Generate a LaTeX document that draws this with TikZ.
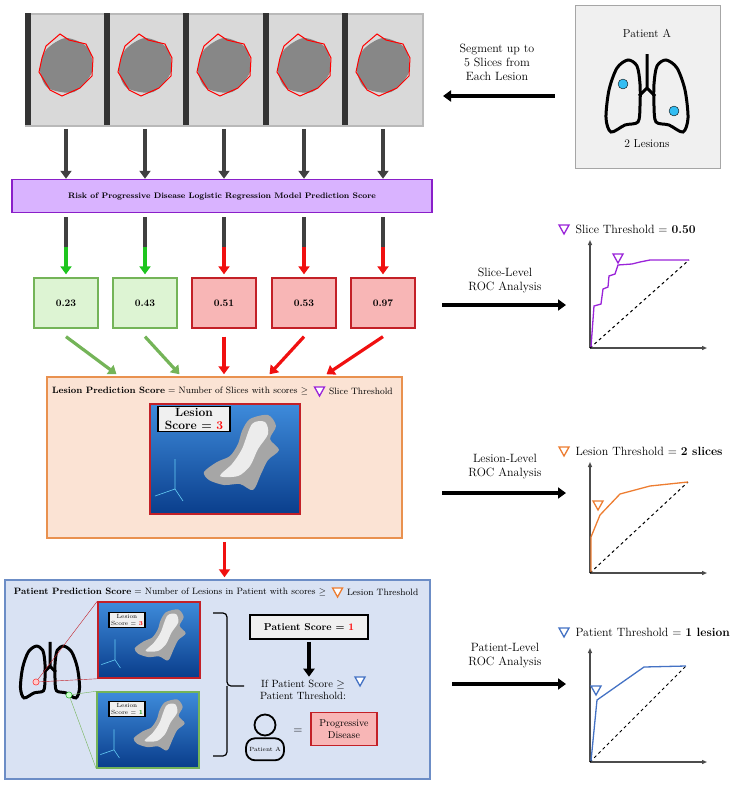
\documentclass[tikz,border=0pt]{standalone}
\usetikzlibrary{arrows.meta,positioning,shapes.geometric}
\definecolor{riskfill}{HTML}{D9B3FF}
\definecolor{riskdraw}{HTML}{8A1FC9}
\definecolor{goodfill}{HTML}{DDF4D3}
\definecolor{gooddraw}{HTML}{74B458}
\definecolor{badfill}{HTML}{F8B6B6}
\definecolor{baddraw}{HTML}{C32027}
\definecolor{lesfill}{HTML}{FBE3D4}
\definecolor{lesdraw}{HTML}{E9914F}
\definecolor{patfill}{HTML}{D9E2F3}
\definecolor{patdraw}{HTML}{6C8DC6}
\definecolor{rocblue}{HTML}{4472C4}
\definecolor{rocorange}{HTML}{ED7D31}
\definecolor{rocpurple}{HTML}{9A24D9}
\definecolor{renderlight}{HTML}{3E8BDB}
\definecolor{renderdark}{HTML}{0A3E8C}
\definecolor{arrowred}{HTML}{F01010}
\definecolor{arrowgreen}{HTML}{1EC51E}

\tikzset{
  fatarrow/.style={line width=3.2pt, -{Triangle[length=8pt,width=11pt]}},
  score/.style={draw, line width=1.3pt, minimum width=64pt, minimum height=50pt, font=\bfseries\fontsize{10}{12}\selectfont},
  rocaxis/.style={line width=1.2pt, black!70, -{Triangle[length=5pt,width=4pt]}},
  roctext/.style={align=center, font=\fontsize{12}{14}\selectfont},
  thr/.pic={\draw[line width=1.3pt, fill=white] (-5,-4) -- (5,-4) -- (0,5) -- cycle;},
  lungs/.pic={
    \draw[line width=3pt, line join=round] (0,-42) -- (0,-8) -- (-8,0) (0,-8) -- (8,0);
    \draw[line width=3pt] plot[smooth cycle] coordinates {(-10,-30) (-7,-12) (-7,10) (-9,26) (-22,29) (-36,36) (-41,22) (-38,-6) (-30,-28) (-19,-36)};
    \draw[line width=3pt] plot[smooth cycle] coordinates {(10,-30) (7,-12) (7,10) (9,26) (22,29) (36,36) (41,22) (38,-6) (30,-28) (19,-36)};
  },
  render/.pic={
    \shade[top color=renderlight, bottom color=renderdark] (0,0) rectangle (150,110);
    \fill[gray!70] plot[smooth cycle] coordinates {(100,15) (118,11) (126,22) (120,35) (129,46) (118,56) (111,70) (103,86) (90,80) (74,81) (59,76) (54,68) (67,58) (80,52) (88,40) (92,27)};
    \fill[white!85!gray] plot[smooth cycle] coordinates {(102,20) (115,18) (118,30) (108,45) (100,62) (88,72) (70,72) (82,60) (92,45)};
    \draw[cyan!60, line width=0.6pt] (25,85) -- (25,55) (25,85) -- (5,92) (25,85) -- (33,97);
  }
}

\begin{document}
\begin{tikzpicture}[x=1pt, y=-1pt, font=\fontsize{10}{12}\selectfont]
  \useasboundingbox (0,0) rectangle (745,788);

  % CT slices
  \foreach \i/\x in {1/66, 2/145, 3/224, 4/304, 5/383} {
    \node[minimum width=80pt, minimum height=112pt, fill=gray!30, draw=gray!55, line width=1.5pt] (sl\i) at (\x,70) {};
    \fill[black!80] (sl\i.north west) rectangle ++(6,112);
    \fill[black!55, opacity=0.8] plot[smooth cycle] coordinates {(\x-20,50) (\x,38) (\x+22,48) (\x+26,72) (\x+8,92) (\x-18,88) (\x-26,70)};
    \draw[red, line width=1pt] plot[sharp cycle] coordinates {(\x-20,46) (\x-6,34) (\x+3,40) (\x+20,44) (\x+27,58) (\x+26,76) (\x+14,88) (\x-4,96) (\x-16,90) (\x-27,72) (\x-24,58)};
  }

  \node[draw=riskdraw, fill=riskfill, line width=1.5pt, minimum width=420pt, minimum height=33pt, font=\bfseries\fontsize{8}{10}\selectfont] (risk) at (222,196) {Risk of Progressive Disease Logistic Regression Model Prediction Score};

  % slice scores
  \node[score, draw=gooddraw, fill=goodfill] (sc1) at (66,303) {0.23};
  \node[score, draw=gooddraw, fill=goodfill] (sc2) at (145,303) {0.43};
  \node[score, draw=baddraw, fill=badfill] (sc3) at (224,303) {0.51};
  \node[score, draw=baddraw, fill=badfill] (sc4) at (304,303) {0.53};
  \node[score, draw=baddraw, fill=badfill] (sc5) at (383,303) {0.97};

  \foreach \i in {1,...,5} {
    \draw[fatarrow, black!75] ([yshift=-2pt]sl\i.south) -- (sl\i |- risk.north);
    \coordinate (m\i) at ([yshift=30pt]sc\i.north);
  }
  \foreach \i in {1,2} {
    \draw[line width=3.2pt, black!75] ([yshift=-4pt]risk.south -| sc\i) -- (m\i);
    \draw[fatarrow, arrowgreen] (m\i) -- ([yshift=3pt]sc\i.north);
  }
  \foreach \i in {3,4,5} {
    \draw[line width=3.2pt, black!75] ([yshift=-4pt]risk.south -| sc\i) -- (m\i);
    \draw[fatarrow, arrowred] (m\i) -- ([yshift=3pt]sc\i.north);
  }

  % lesion box
  \node[draw=lesdraw, fill=lesfill, line width=1.5pt, minimum width=355pt, minimum height=161pt] (les) at (224.5,457.5) {};
  \draw[fatarrow, gooddraw] ([yshift=-8pt]sc1.south) -- ([xshift=-108pt,yshift=2pt]les.north);
  \draw[fatarrow, gooddraw] ([yshift=-8pt]sc2.south) -- ([xshift=-45pt,yshift=2pt]les.north);
  \draw[fatarrow, arrowred] ([yshift=-8pt]sc3.south) -- ([yshift=2pt]sc3.south |- les.north);
  \draw[fatarrow, arrowred] ([yshift=-8pt]sc4.south) -- ([xshift=45pt,yshift=2pt]les.north);
  \draw[fatarrow, arrowred] ([yshift=-8pt]sc5.south) -- ([xshift=102pt,yshift=2pt]les.north);

  \node[font=\fontsize{9.2}{11}\selectfont] (lt1) at (180,391) {\textbf{Lesion Prediction Score} = Number of Slices with scores $\geq$};
  \pic[rocpurple] at ([xshift=8pt]lt1.east) {thr};
  \node[font=\fontsize{9.2}{11}\selectfont, right=14pt of lt1] (lt2) {Slice Threshold};

  \pic at (150,404) {render};
  \node[draw=baddraw, line width=1.5pt, minimum width=150pt, minimum height=110pt] (rbig) at (225,459) {};
  \node[draw, line width=1.5pt, fill=gray!12, align=center, font=\bfseries\fontsize{12}{13}\selectfont, inner sep=2pt, minimum width=72pt] (lscore) at (194,419) {Lesion\\Score = \textcolor{red}{3}};

  % patient box
  \node[draw=patdraw, fill=patfill, line width=1.5pt, minimum width=425pt, minimum height=199pt] (pat) at (217.5,679.5) {};
  \draw[fatarrow, arrowred] ([yshift=-3pt]les.south) -- ([yshift=2pt]les.south |- pat.north);
  \node[font=\fontsize{9.2}{11}\selectfont] (pt1) at (170,592) {\textbf{Patient Prediction Score} = Number of Lesions in Patient with scores $\geq$};
  \pic[rocorange] at ([xshift=8pt]pt1.east) {thr};
  \node[font=\fontsize{9.2}{11}\selectfont, right=14pt of pt1] (pt2) {Lesion Threshold};

  \pic[scale=0.72] at (50,672) {lungs};
  \node[draw=red, circle, inner sep=2.2pt, fill=red!20] (lred) at (36,682) {};
  \node[draw=green!60!black, circle, inner sep=2.2pt, fill=green!20] (lgreen) at (69,695) {};

  \pic[scale=0.68] at (98,602) {render};
  \node[draw=baddraw, line width=1.5pt, minimum width=102pt, minimum height=76pt] (rred) at (149,640) {};
  \pic[scale=0.68] at (97,692) {render};
  \node[draw=gooddraw, line width=1.5pt, minimum width=102pt, minimum height=76pt] (rgreen) at (148,730) {};
  \draw[baddraw] (lred) -- (rred.north west) (lred) -- (rred.south west);
  \draw[gooddraw] (lgreen) -- (rgreen.north west) (lgreen) -- (rgreen.south west);
  \node[draw, line width=1.2pt, fill=gray!12, align=center, font=\fontsize{6}{7}\selectfont, inner sep=2pt] (ls1) at (127,620) {Lesion\\Score = \textcolor{red}{\textbf{3}}};
  \node[draw, line width=1.2pt, fill=gray!12, align=center, font=\fontsize{6}{7}\selectfont, inner sep=2pt] (ls2) at (127,709) {Lesion\\Score = \textcolor{green!60!black}{\textbf{1}}};

  \coordinate (br) at (244,686);
  \draw[line width=1.2pt, rounded corners=4pt] (213,613) -- (227,613) -- (227,686) -- (br) (227,686) -- (227,756) -- (213,756);

  \node[draw, line width=1.5pt, fill=gray!12, minimum width=118pt, minimum height=24pt, font=\bfseries\fontsize{10}{12}\selectfont] (psc) at (309,627) {Patient Score = \textcolor{red}{1}};
  \node[align=center, font=\fontsize{10.5}{12}\selectfont] (cond) at (303,690) {If Patient Score $\geq$\hspace{12pt}\\Patient Threshold:};
  \draw[fatarrow, black] ([yshift=-2pt]psc.south) -- (psc.south |- cond.north);
  \pic[rocblue] at (360,681) {thr};
  \node[draw, circle, line width=1.8pt, minimum size=21pt] (head) at (265,725) {};
  \node[draw, line width=1.8pt, rounded corners=9pt, minimum width=36pt, minimum height=22pt, font=\fontsize{6}{7}\selectfont, below=1pt of head] (body) {Patient A};
  \node[font=\fontsize{12}{12}\selectfont] (eq) at (298,731) {=};
  \node[draw=baddraw, fill=badfill, line width=1.5pt, align=center, minimum width=66pt, minimum height=33pt, font=\fontsize{10}{12}\selectfont] (pd) at (344,729) {Progressive\\Disease};

  % patient A
  \node[draw=gray!70, fill=gray!12, line width=1pt, minimum width=145pt, minimum height=163pt] (pa) at (647.5,86.5) {};
  \node[font=\fontsize{11.5}{13}\selectfont] (pan) at (647,33) {Patient A};
  \pic at (647,96) {lungs};
  \node[draw, circle, fill=cyan!80, inner sep=3.5pt] (d1) at (623,84) {};
  \node[draw, circle, fill=cyan!80, inner sep=3.5pt] (d2) at (674,111) {};
  \node[font=\fontsize{11.5}{13}\selectfont] (pal) at (647,144) {2 Lesions};
  \node[roctext] (seg) at (497,62) {Segment up to\\5 Slices from\\Each Lesion};
  \coordinate (segend) at (443,96);
  \draw[fatarrow, black] ([xshift=-20pt]pa.west |- segend) -- (segend);

  % slice ROC
  \node[roctext] (sroc) at (505,280) {Slice-Level\\ROC Analysis};
  \coordinate (so) at (590,348);
  \coordinate (sx) at (707,348);
  \coordinate (sy) at (590,240);
  \draw[fatarrow, black] (442,305) -- (566,305);
  \draw[rocaxis] (so) -- (sx);
  \draw[rocaxis] (so) -- (sy);
  \draw[dashed, line width=1pt] (so) -- (689,260);
  \draw[rocpurple, line width=1.3pt] (591,347) -- (594,306) -- (601,304) -- (603,289) -- (608,287) -- (609,276) -- (615,274) -- (618,265) -- (632,264) -- (640,262) -- (650,260) -- (689,260);
  \pic[rocpurple] at (618,258) {thr};
  \pic[rocpurple] at (564,229) {thr};
  \node[roctext, anchor=west] (slt) at (572,229) {Slice Threshold = \textbf{0.50}};

  % lesion ROC
  \node[roctext] (lroc) at (505,467) {Lesion-Level\\ROC Analysis};
  \coordinate (lo) at (590,573);
  \coordinate (lx) at (707,573);
  \coordinate (ly) at (590,462);
  \draw[fatarrow, black] (442,493) -- (566,493);
  \draw[rocaxis] (lo) -- (lx);
  \draw[rocaxis] (lo) -- (ly);
  \draw[dashed, line width=1pt] (lo) -- (688,482);
  \draw[rocorange, line width=1.3pt] (591,572) -- (591,537) -- (600,515) -- (620,494) -- (650,486) -- (688,482);
  \pic[rocorange] at (598,505) {thr};
  \pic[rocorange] at (564,451) {thr};
  \node[roctext, anchor=west] (llt) at (572,451) {Lesion Threshold = \textbf{2 slices}};

  % patient ROC
  \node[roctext] (proc) at (505,656) {Patient-Level\\ROC Analysis};
  \coordinate (po) at (590,762);
  \coordinate (px) at (707,762);
  \coordinate (py) at (590,648);
  \draw[fatarrow, black] (452,684) -- (566,684);
  \draw[rocaxis] (po) -- (px);
  \draw[rocaxis] (po) -- (py);
  \draw[dashed, line width=1pt] (po) -- (686,666);
  \draw[rocblue, line width=1.3pt] (591,761) -- (597,700) -- (644,667) -- (686,666);
  \pic[rocblue] at (596,690) {thr};
  \pic[rocblue] at (564,632) {thr};
  \node[roctext, anchor=west] (plt) at (572,632) {Patient Threshold = \textbf{1 lesion}};
\end{tikzpicture}
\end{document}
